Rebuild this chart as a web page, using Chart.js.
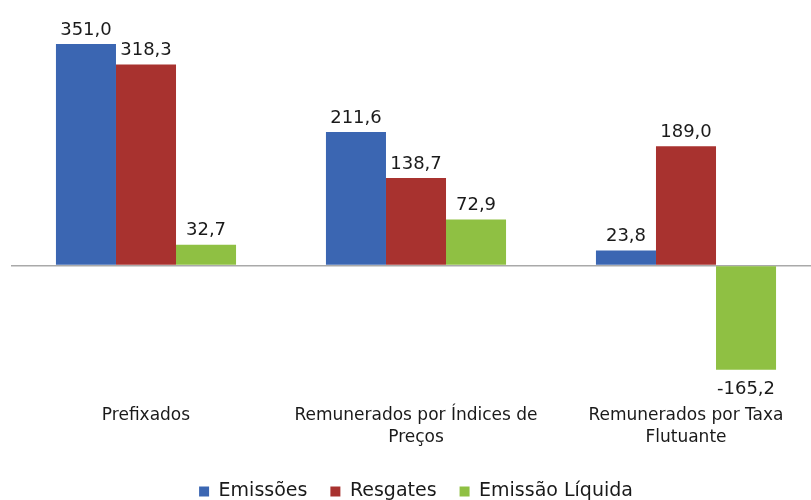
<!DOCTYPE html>
<html>
<head>
<meta charset="utf-8">
<script src="https://cdn.jsdelivr.net/npm/chart.js@4.4.1/dist/chart.umd.min.js"></script>
<style>
  html, body { margin: 0; padding: 0; background: #fff; overflow: hidden; }
  #wrap { position: relative; width: 821px; height: 511px; }
</style>
</head>
<body>
<div id="wrap"><canvas id="chart"></canvas></div>
<script>
const categories = [
  ["Prefixados"],
  ["Remunerados por Índices de", "Preços"],
  ["Remunerados por Taxa", "Flutuante"]
];
const seriesNames = ["Emissões", "Resgates", "Emissão Líquida"];
const emissoes    = [351.0, 211.6, 23.8];
const resgates    = [318.3, 138.7, 189.0];
const liquida     = [32.7, 72.9, -165.2];
const colors      = ["#3b66b2", "#a8322f", "#8fc043"];

const FONT = "'DejaVu Sans', 'Liberation Sans', sans-serif";

const fmt = v => v.toFixed(1).replace(".", ",");

// value labels above (or below, for negatives) each bar
const valueLabels = {
  id: "valueLabels",
  afterDatasetsDraw(chart) {
    const ctx = chart.ctx;
    ctx.save();
    ctx.font = "18px " + FONT;
    ctx.fillStyle = "#1a1a1a";
    ctx.textAlign = "center";
    chart.data.datasets.forEach((ds, di) => {
      const meta = chart.getDatasetMeta(di);
      meta.data.forEach((bar, i) => {
        const v = ds.data[i];
        if (v >= 0) {
          ctx.textBaseline = "bottom";
          ctx.fillText(fmt(v), bar.x, bar.y - 5);
        } else {
          ctx.textBaseline = "top";
          ctx.fillText(fmt(v), bar.x, bar.y + 11);
        }
      });
    });
    ctx.restore();
  }
};

const data = {
  labels: categories,
  datasets: [emissoes, resgates, liquida].map((vals, i) => ({
    label: seriesNames[i],
    data: vals,
    backgroundColor: colors[i],
    borderWidth: 0,
    categoryPercentage: 0.667,
    barPercentage: 1.0,
  }))
};

new Chart(document.getElementById("chart"), {
  type: "bar",
  data,
  plugins: [valueLabels],
  options: {
    responsive: true,
    maintainAspectRatio: false,
    animation: false,
    layout: { padding: { left: 11, right: 0, top: 13, bottom: 0 } },
    scales: {
      x: {
        grid: { display: false, drawTicks: false },
        border: { display: false },
        ticks: {
          color: "#1a1a1a",
          padding: 10,
          maxRotation: 0,
          autoSkip: false,
          font: { family: FONT, size: 17, lineHeight: 1.3 },
        },
      },
      y: {
        min: -205,
        max: 400,
        ticks: { display: false, stepSize: 50 },
        border: { display: false },
        grid: {
          drawTicks: false,
          lineWidth: 1.5,
          color: c => (c.tick && c.tick.value === 0 ? "#a9a9a9" : "transparent"),
        },
      },
    },
    plugins: {
      legend: {
        position: "bottom",
        labels: {
          padding: 23,
          boxWidth: 10,
          boxHeight: 10,
          color: "#1a1a1a",
          font: { family: FONT, size: 19 },
        },
      },
      tooltip: { enabled: false },
    },
  },
});
</script>
</body>
</html>
